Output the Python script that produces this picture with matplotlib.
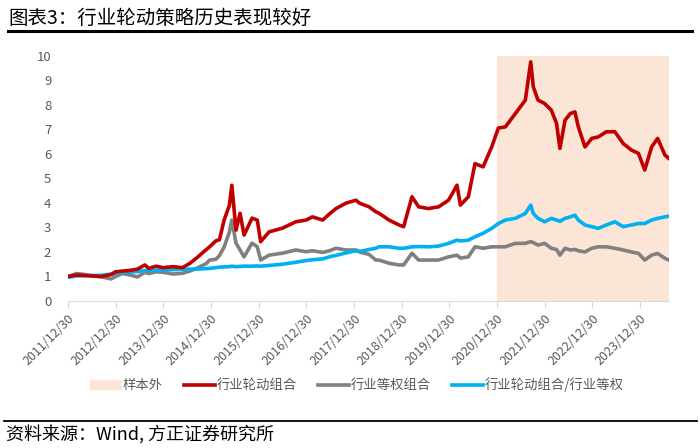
import matplotlib
matplotlib.use('Agg')
import matplotlib.pyplot as plt
import matplotlib.patches as mpatches
import matplotlib.lines as mlines
import pandas as pd

plt.rcParams['font.family'] = ['Noto Sans CJK SC', 'DejaVu Sans']

dates = ['2011-12-30', '2012-03-05', '2012-05-10', '2012-07-10', '2012-09-15', '2012-11-25',
         '2012-12-28', '2013-02-20', '2013-04-20', '2013-06-15', '2013-08-10', '2013-09-10',
         '2013-11-05', '2013-12-27', '2014-03-15', '2014-05-25', '2014-07-20', '2014-09-10',
         '2014-11-25', '2014-12-20', '2015-02-05', '2015-03-05', '2015-04-10', '2015-05-20',
         '2015-06-08', '2015-07-10', '2015-08-10', '2015-09-10', '2015-11-10', '2015-12-20',
         '2016-01-15', '2016-03-20', '2016-06-30', '2016-10-10', '2016-12-28', '2017-02-15',
         '2017-05-05', '2017-06-25', '2017-08-15', '2017-10-30', '2018-01-15', '2018-02-10',
         '2018-04-25', '2018-06-15', '2018-07-10', '2018-09-25', '2018-12-10', '2019-01-15',
         '2019-03-20', '2019-05-10', '2019-07-25', '2019-10-10', '2019-12-25', '2020-02-28',
         '2020-03-25', '2020-05-25', '2020-07-15', '2020-09-15', '2020-11-20', '2021-01-10',
         '2021-03-05', '2021-05-20', '2021-08-05', '2021-09-15', '2021-10-05', '2021-11-10',
         '2021-12-31', '2022-02-20', '2022-04-01', '2022-04-27', '2022-06-05', '2022-07-15',
         '2022-08-20', '2022-09-15', '2022-11-05', '2022-12-27', '2023-02-15', '2023-04-18',
         '2023-06-22', '2023-08-25', '2023-10-28', '2023-12-20', '2024-02-06', '2024-03-30',
         '2024-05-15', '2024-07-10', '2024-08-10']

rotation = [1.00, 1.06, 1.04, 1.02, 1.00, 1.08,
            1.19, 1.22, 1.25, 1.30, 1.47, 1.33,
            1.42, 1.36, 1.40, 1.36, 1.53, 1.75,
            2.10, 2.21, 2.45, 2.50, 3.30, 3.90,
            4.72, 2.89, 3.58, 2.69, 3.38, 3.30,
            2.42, 2.82, 2.97, 3.23, 3.30, 3.43,
            3.30, 3.55, 3.77, 3.99, 4.11, 3.99,
            3.84, 3.64, 3.58, 3.30, 3.10, 3.03,
            4.25, 3.84, 3.77, 3.84, 4.11, 4.72,
            3.91, 4.25, 5.60, 5.47, 6.28, 7.05,
            7.10, 7.64, 8.19, 9.75, 8.73, 8.19,
            8.05, 7.78, 7.24, 6.22, 7.37, 7.64,
            7.71, 7.10, 6.28, 6.63, 6.69, 6.90,
            6.90, 6.42, 6.15, 6.02, 5.34, 6.28,
            6.63, 5.95, 5.81]

equal = [1.00, 1.12, 1.08, 1.02, 0.98, 0.90,
         1.00, 1.12, 1.06, 0.98, 1.17, 1.12,
         1.19, 1.17, 1.10, 1.13, 1.22, 1.33,
         1.53, 1.67, 1.70, 1.85, 2.20, 2.80,
         3.30, 2.36, 2.08, 1.80, 2.36, 2.21,
         1.67, 1.87, 1.95, 2.08, 2.01, 2.05,
         1.98, 2.05, 2.15, 2.08, 2.08, 2.00,
         1.90, 1.67, 1.67, 1.54, 1.47, 1.47,
         1.95, 1.67, 1.67, 1.67, 1.80, 1.87,
         1.75, 1.80, 2.21, 2.15, 2.21, 2.21,
         2.21, 2.35, 2.35, 2.42, 2.38, 2.28,
         2.35, 2.15, 2.10, 1.87, 2.15, 2.08,
         2.10, 2.05, 2.00, 2.15, 2.21, 2.21,
         2.15, 2.08, 2.00, 1.94, 1.67, 1.87,
         1.94, 1.74, 1.67]

ratio = [0.97, 1.02, 1.03, 1.04, 1.05, 1.10,
         1.13, 1.16, 1.18, 1.20, 1.24, 1.24,
         1.26, 1.26, 1.28, 1.29, 1.30, 1.30,
         1.32, 1.33, 1.36, 1.38, 1.39, 1.40,
         1.42, 1.40, 1.41, 1.42, 1.42, 1.43,
         1.42, 1.45, 1.50, 1.58, 1.65, 1.68,
         1.72, 1.80, 1.86, 1.96, 2.05, 2.02,
         2.10, 2.15, 2.21, 2.21, 2.15, 2.15,
         2.21, 2.22, 2.21, 2.24, 2.35, 2.48,
         2.45, 2.48, 2.62, 2.76, 2.96, 3.16,
         3.30, 3.37, 3.57, 3.91, 3.57, 3.37,
         3.23, 3.37, 3.30, 3.25, 3.37, 3.43,
         3.50, 3.30, 3.10, 3.03, 2.96, 3.10,
         3.23, 3.03, 3.10, 3.16, 3.16, 3.30,
         3.37, 3.43, 3.46]

tick_dates = ['2011-12-30', '2012-12-30', '2013-12-30', '2014-12-30', '2015-12-30',
              '2016-12-30', '2017-12-30', '2018-12-30', '2019-12-30', '2020-12-30',
              '2021-12-30', '2022-12-30', '2023-12-30']
tick_labels = ['2011/12/30', '2012/12/30', '2013/12/30', '2014/12/30', '2015/12/30',
               '2016/12/30', '2017/12/30', '2018/12/30', '2019/12/30', '2020/12/30',
               '2021/12/30', '2022/12/30', '2023/12/30']
oos_start = '2020-12-30'

x = pd.to_datetime(dates)

fig = plt.figure(figsize=(7, 4.48), dpi=100)
ax = fig.add_axes([0.0971, 0.3281, 0.8586, 0.5475])

ax.axvspan(pd.Timestamp(oos_start), x[-1], color='#FBE5D6', lw=0, zorder=0)
ax.plot(x, rotation, color='#C00000', lw=2.6, zorder=3)
ax.plot(x, equal, color='#808080', lw=2.6, zorder=2)
ax.plot(x, ratio, color='#00B0F0', lw=2.6, zorder=2)

ax.set_xlim(x[0], x[-1])
ax.set_ylim(0, 10)
ax.set_yticks(range(0, 11))
ax.set_xticks(pd.to_datetime(tick_dates))
ax.set_xticklabels(tick_labels, rotation=45, ha='right', rotation_mode='anchor')

for s in ['top', 'right', 'left']:
    ax.spines[s].set_visible(False)
ax.spines['bottom'].set_color('#D9D9D9')
ax.tick_params(axis='y', length=0, pad=12, labelsize=9.5, labelcolor='#595959')
ax.tick_params(axis='x', length=5, color='#D9D9D9', pad=3, labelsize=9, labelcolor='#595959')

handles = [mpatches.Patch(color='#FBE5D6', label='样本外'),
           mlines.Line2D([], [], color='#C00000', lw=2.6, label='行业轮动组合'),
           mlines.Line2D([], [], color='#808080', lw=2.6, label='行业等权组合'),
           mlines.Line2D([], [], color='#00B0F0', lw=2.6, label='行业轮动组合/行业等权')]
fig.legend(handles=handles, loc='center', bbox_to_anchor=(0.51, 0.141), ncol=4,
           frameon=False, fontsize=9.6, labelcolor='#595959', handlelength=2.3,
           handletextpad=0.15, columnspacing=1.6)

fig.text(0.012, 0.96, '图表3：行业轮动策略历史表现较好', fontsize=14, va='center', ha='left')
fig.add_artist(mlines.Line2D([0.012, 0.988], [0.931, 0.931], color='black', lw=2.2))
fig.add_artist(mlines.Line2D([0.005, 0.995], [0.06, 0.06], color='black', lw=1.3))
fig.text(0.008, 0.031, '资料来源：Wind, 方正证券研究所', fontsize=13, style='italic',
         va='center', ha='left')

fig.savefig('out.png', dpi=100)
